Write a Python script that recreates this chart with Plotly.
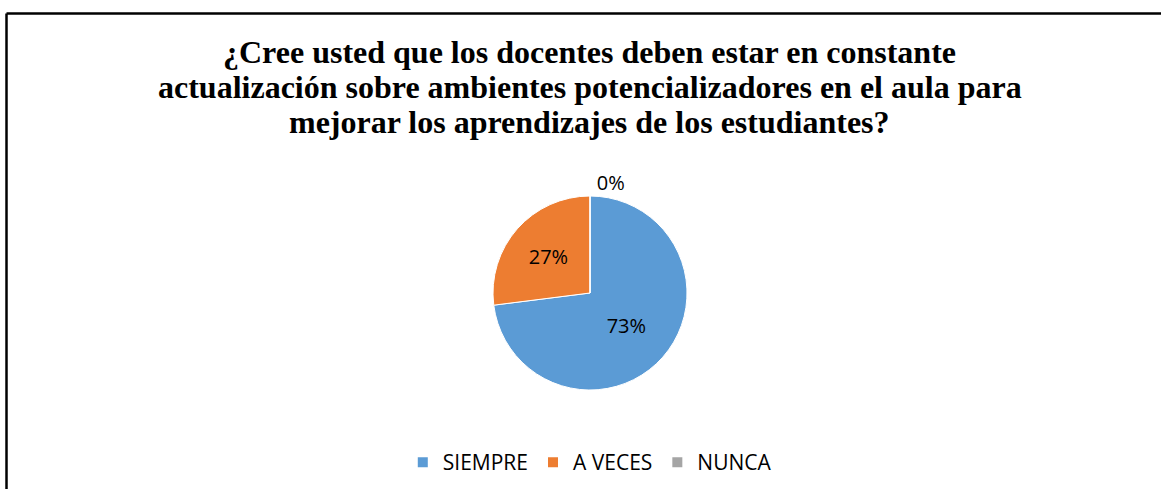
import plotly.graph_objects as go

categories = ["SIEMPRE", "A VECES", "NUNCA"]
values = [73, 27, 0]
colors = ["#5B9BD5", "#ED7D31", "#A5A5A5"]
title_lines = [
    "¿Cree usted que los docentes deben estar en constante",
    "actualización sobre ambientes potencializadores en el aula para",
    "mejorar los aprendizajes de los estudiantes?",
]

W, H = 1161, 489

fig = go.Figure()
fig.add_trace(go.Pie(
    labels=categories,
    values=values,
    marker=dict(colors=colors, line=dict(color="white", width=1)),
    sort=False,
    direction="clockwise",
    rotation=0,
    texttemplate="%{percent:.0%}",
    textposition=["inside", "inside", "outside"],
    insidetextorientation="horizontal",
    textfont=dict(family="Open Sans, Liberation Sans, sans-serif", size=20, color="#000000"),
    domain=dict(x=[493 / W, 687 / W], y=[1 - 390 / H, 1 - 196 / H]),
    hoverinfo="label+percent",
    showlegend=True,
))

baselines = [65, 100, 135]
for line, b in zip(title_lines, baselines):
    fig.add_annotation(
        text="<b>%s</b>" % line,
        x=0.508, xref="paper", xanchor="center",
        y=1 - (b + 7) / H, yref="paper", yanchor="bottom",
        showarrow=False,
        font=dict(family="Liberation Serif, Times New Roman, serif", size=32, color="#000000"),
    )

fig.add_shape(type="line", xref="paper", yref="paper",
              x0=6.5 / W, x1=1.01, y0=1 - 13.5 / H, y1=1 - 13.5 / H,
              line=dict(color="#000000", width=2.5))
fig.add_shape(type="line", xref="paper", yref="paper",
              x0=6.5 / W, x1=6.5 / W, y0=1 - 13.5 / H, y1=-0.01,
              line=dict(color="#000000", width=2.5))

fig.update_layout(
    width=W, height=H,
    margin=dict(l=0, r=0, t=0, b=0),
    paper_bgcolor="white",
    plot_bgcolor="white",
    legend=dict(
        orientation="h",
        x=0.508, xanchor="center",
        y=1 - 442 / H, yanchor="top",
        font=dict(family="Open Sans, Liberation Sans, sans-serif", size=21, color="#000000"),
        itemsizing="constant",
        traceorder="normal",
    ),
)

fig.write_html("out.html", config={"displayModeBar": False},
               post_script="document.body.style.margin='0';document.body.style.overflow='hidden';")
